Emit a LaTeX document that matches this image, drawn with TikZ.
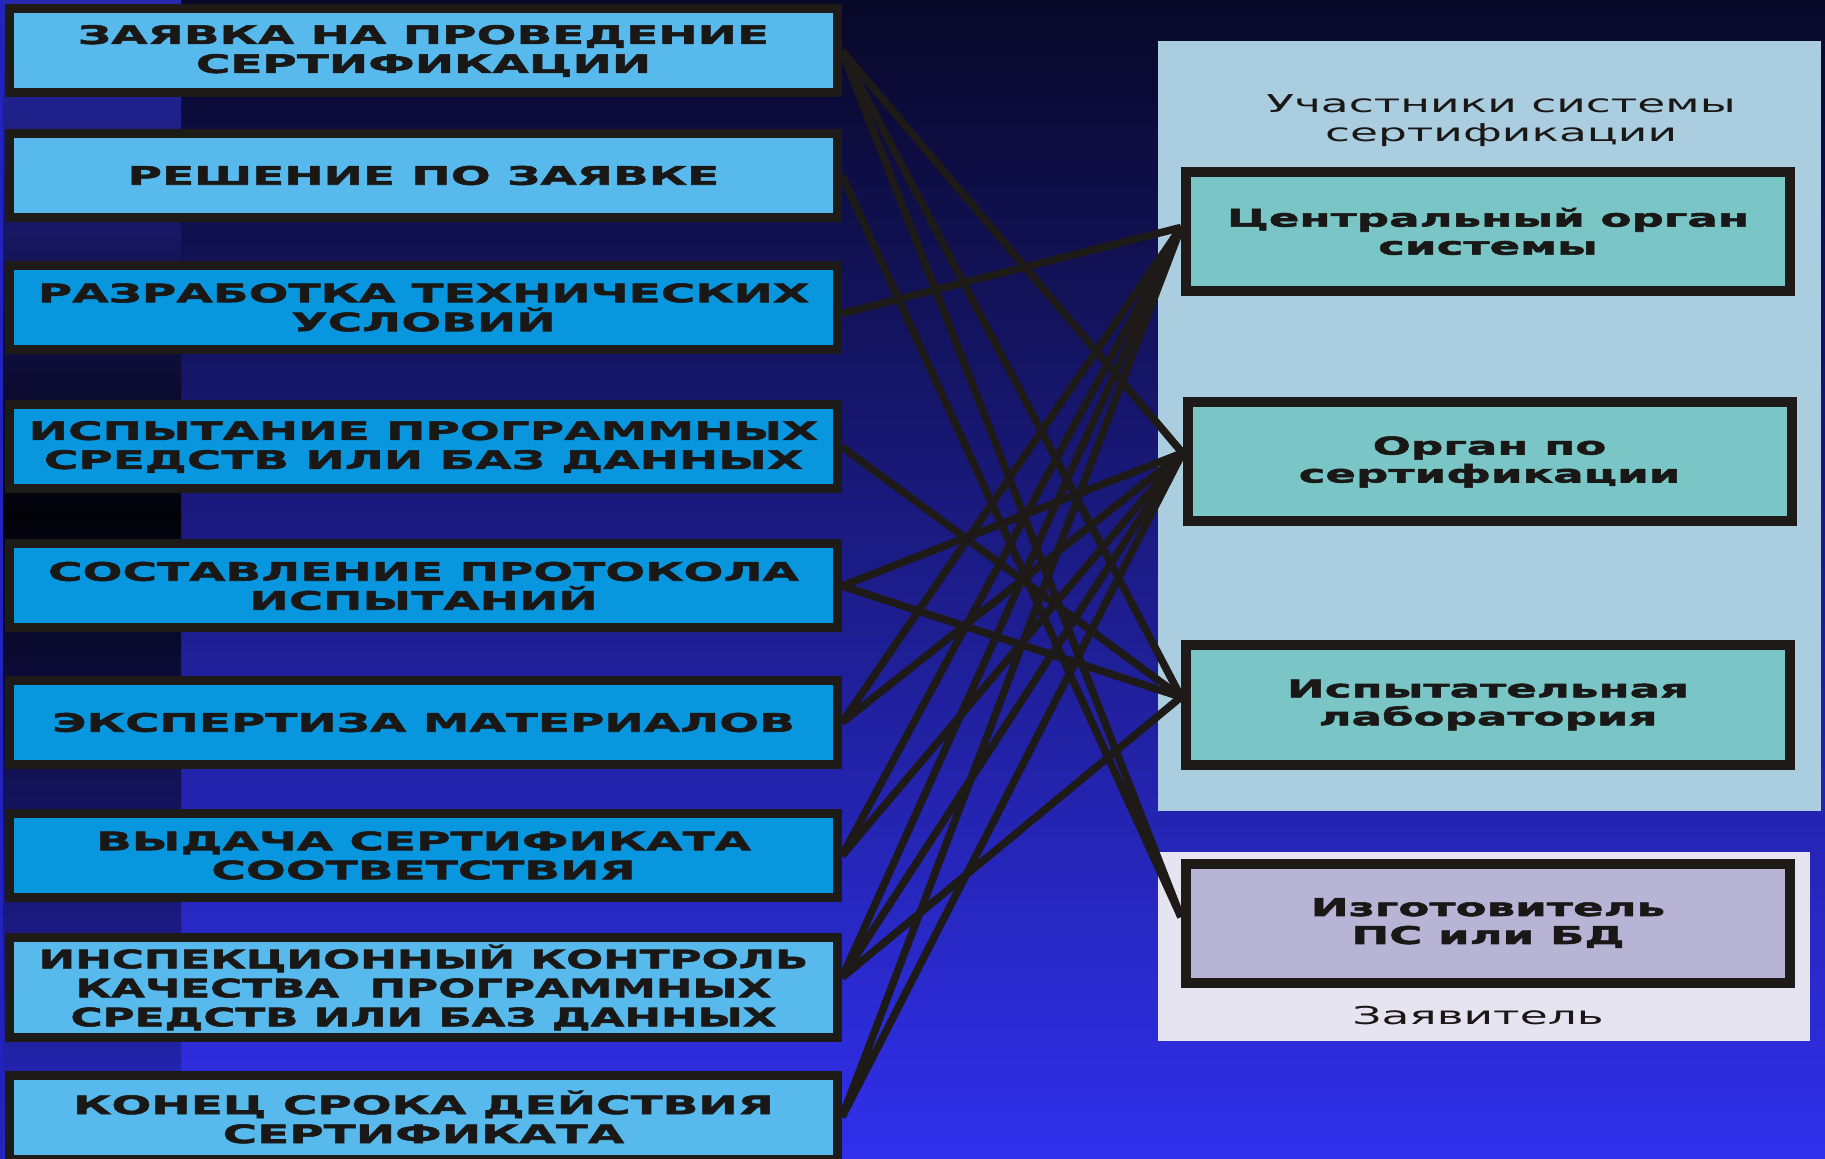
\documentclass[tikz,border=0pt]{standalone}
\usepackage{fontspec}
\newfontfamily\widefont{DejaVu Sans}[FakeStretch=1.85, BoldFeatures={FakeBold=2.2}]
\newfontfamily\widefontn{DejaVu Sans}[FakeStretch=1.72, BoldFeatures={FakeBold=2.2}]
\usetikzlibrary{calc}
\definecolor{bgtop}{RGB}{8,8,40}
\definecolor{bgmid}{RGB}{28,28,138}
\definecolor{bgbot}{RGB}{48,48,236}
\definecolor{striptop}{RGB}{40,40,174}
\definecolor{stripmid}{RGB}{2,2,8}
\definecolor{stripbot}{RGB}{40,40,198}
\definecolor{stripedge}{RGB}{34,34,190}
\definecolor{lightb}{RGB}{88,186,236}
\definecolor{deepb}{RGB}{8,150,222}
\definecolor{tealbox}{RGB}{122,197,197}
\definecolor{lavbox}{RGB}{184,180,214}
\definecolor{panelb}{RGB}{171,205,224}
\definecolor{panell}{RGB}{230,228,240}
\definecolor{ink}{RGB}{30,26,23}
\definecolor{txt}{RGB}{26,24,22}
\tikzset{
  lbox/.style={draw=ink, line width=4.5pt, minimum width=414pt, minimum height=42pt,
    inner sep=0pt, align=center, text=txt,
    font={\widefont\bfseries\fontsize{12.7pt}{14.5pt}\selectfont}},
  rbox/.style={draw=ink, line width=5pt, minimum width=302pt, minimum height=59.5pt,
    inner sep=0pt, align=center, text=txt, fill=tealbox,
    font={\widefont\bfseries\fontsize{12.2pt}{14pt}\selectfont}},
  caption/.style={align=center, text=txt, inner sep=0pt,
    font={\widefont\fontsize{12.3pt}{14.5pt}\selectfont}},
  link/.style={draw=ink, line width=3.8pt}
}
\begin{document}
\begin{tikzpicture}[x=0.5pt, y=-0.5pt]
\useasboundingbox (0,0) rectangle (1825,1159);
% background
\shade[top color=bgtop, middle color=bgmid, bottom color=bgbot] (0,0) rectangle (1825,1159);
\shade[top color=striptop, bottom color=stripmid] (0,0) rectangle (181,515);
\shade[top color=stripmid, bottom color=stripbot] (0,515) rectangle (181,1159);
\fill[stripedge] (0,0) rectangle (3,1159);
% panels
\fill[panelb] (1158,41) rectangle (1821,811);
\fill[panell] (1158,852) rectangle (1810,1041);
\node[caption] (ttl) at (1501,121) {Участники системы\\сертификации};
\node[caption] (zv) at (1478,1016) {Заявитель};
% right boxes
\node[rbox] (cen) at (1488,231.5) {Центральный орган\\системы};
\node[rbox] (org) at (1489.5,462) {Орган по\\сертификации};
\node[rbox] (lab) at (1488,705) {Испытательная\\лаборатория};
\node[rbox, fill=lavbox] (izg) at (1488,923) {Изготовитель\\ПС или БД};
% left boxes
\node[lbox, fill=lightb] (b1) at (423.5,51) {ЗАЯВКА НА ПРОВЕДЕНИЕ\\СЕРТИФИКАЦИИ};
\node[lbox, fill=lightb] (b2) at (423.5,175.5) {РЕШЕНИЕ ПО ЗАЯВКЕ};
\node[lbox, fill=deepb] (b3) at (423.5,307.5) {РАЗРАБОТКА ТЕХНИЧЕСКИХ\\УСЛОВИЙ};
\node[lbox, fill=deepb] (b4) at (423.5,447) {ИСПЫТАНИЕ ПРОГРАММНЫХ\\СРЕДСТВ ИЛИ БАЗ ДАННЫХ};
\node[lbox, fill=deepb] (b5) at (423.5,586) {СОСТАВЛЕНИЕ ПРОТОКОЛА\\ИСПЫТАНИЙ};
\node[lbox, fill=deepb] (b6) at (423.5,722.5) {ЭКСПЕРТИЗА МАТЕРИАЛОВ};
\node[lbox, fill=deepb] (b7) at (423.5,855.5) {ВЫДАЧА СЕРТИФИКАТА\\СООТВЕТСТВИЯ};
\node[lbox, fill=lightb, minimum height=50pt,
  font={\widefontn\bfseries\fontsize{12.7pt}{14.5pt}\selectfont}] (b8) at (423.5,987.5)
  {ИНСПЕКЦИОННЫЙ КОНТРОЛЬ\\КАЧЕСТВА\ \ ПРОГРАММНЫХ\\СРЕДСТВ ИЛИ БАЗ ДАННЫХ};
\node[lbox, fill=lightb] (b9) at (423.5,1117) {КОНЕЦ СРОКА ДЕЙСТВИЯ\\СЕРТИФИКАТА};
% connectors
\draw[link] (b1.east) -- ([yshift=4.5pt]org.west);
\draw[link] (b1.east) -- ([yshift=4pt]lab.west);
\draw[link] (b1.east) -- ([yshift=3pt]izg.west);
\draw[link] (b2.east) -- ([yshift=3pt]izg.west);
\draw[link] ([yshift=-3pt]b3.east) -- ([yshift=2pt]cen.west);
\draw[link] (b4.east) -- ([yshift=4pt]lab.west);
\draw[link] (b5.east) -- ([yshift=4.5pt]org.west);
\draw[link] (b5.east) -- ([yshift=4pt]lab.west);
\draw[link] (b6.east) -- ([yshift=2pt]cen.west);
\draw[link] (b6.east) -- ([yshift=4.5pt]org.west);
\draw[link] (b7.east) -- ([yshift=2pt]cen.west);
\draw[link] (b7.east) -- ([yshift=4.5pt]org.west);
\draw[link] ([yshift=5pt]b8.east) -- ([yshift=2pt]cen.west);
\draw[link] ([yshift=5pt]b8.east) -- ([yshift=4.5pt]org.west);
\draw[link] ([yshift=5pt]b8.east) -- ([yshift=4pt]lab.west);
\draw[link] (b9.east) -- ([yshift=2pt]cen.west);
\draw[link] (b9.east) -- ([yshift=4.5pt]org.west);
\end{tikzpicture}
\end{document}
